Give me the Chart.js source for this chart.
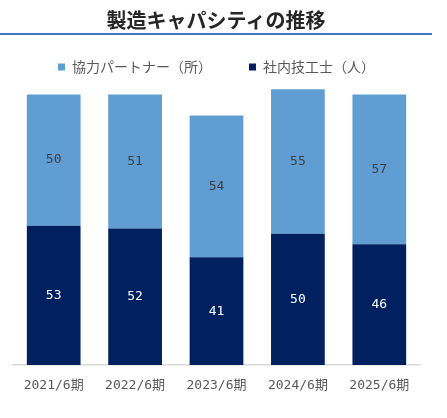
<!DOCTYPE html>
<html lang="ja">
<head>
<meta charset="utf-8">
<script src="https://cdn.jsdelivr.net/npm/chart.js@4.4.1/dist/chart.umd.min.js"></script>
<style>
    html, body { margin: 0; padding: 0; background: #fff; }
    #wrap { position: relative; width: 447px; height: 418px; }
    #title {
        position: absolute; left: 0; top: 0; width: 432px; height: 33px;
        border-bottom: 2px solid #4472C4;
        text-align: center; line-height: 40px;
        font-family: 'Noto Sans CJK JP', sans-serif;
        font-size: 20px; font-weight: bold; color: #262626;
        z-index: 2;
    }
    #box { position: absolute; left: 0; top: 0; width: 447px; height: 418px; }
</style>
</head>
<body>
<div id="wrap">
    <div id="title">製造キャパシティの推移</div>
    <div id="box"><canvas id="capacityChart"></canvas></div>
</div>
<script>
/* ===== DATA ===== */
const periods = ['2021/6期', '2022/6期', '2023/6期', '2024/6期', '2025/6期'];
const staffLabel = '社内技工士（人）';
const partnerLabel = '協力パートナー（所）';
const staffCounts = [53, 52, 41, 50, 46];
const partnerCounts = [50, 51, 54, 55, 57];

const monoFamily = "'DejaVu Sans Mono', 'Noto Sans CJK JP', sans-serif";
Chart.defaults.font.family = "'Noto Sans CJK JP', 'Noto Sans', sans-serif";

/* legend height tweak */
const legendHeight = {
    id: 'legendHeight',
    beforeInit(chart) {
        const fit = chart.legend.fit;
        chart.legend.fit = function () {
            fit.call(this);
            this.height = 53;
        };
    }
};

/* value labels in the middle of each segment */
const barLabels = {
    id: 'barLabels',
    afterDatasetsDraw(chart) {
        const ctx = chart.ctx;
        ctx.save();
        ctx.font = '13px ' + monoFamily;
        ctx.textAlign = 'center';
        ctx.textBaseline = 'middle';
        chart.data.datasets.forEach((ds, i) => {
            const meta = chart.getDatasetMeta(i);
            meta.data.forEach((bar, j) => {
                const p = bar.getCenterPoint();
                ctx.fillStyle = ds.labelColor;
                ctx.fillText(ds.data[j], p.x, p.y);
            });
        });
        ctx.restore();
    }
};

new Chart(document.getElementById('capacityChart'), {
    type: 'bar',
    data: {
        labels: periods,
        datasets: [
            {
                label: staffLabel,
                data: staffCounts,
                backgroundColor: '#002060',
                labelColor: '#ffffff'
            },
            {
                label: partnerLabel,
                data: partnerCounts,
                backgroundColor: '#5F9DD3',
                labelColor: '#404040'
            }
        ]
    },
    options: {
        responsive: true,
        maintainAspectRatio: false,
        animation: false,
        datasets: {
            bar: { categoryPercentage: 1, barPercentage: 0.66 }
        },
        layout: { padding: { left: 13, right: 27, top: 23, bottom: 0 } },
        plugins: {
            legend: {
                position: 'top',
                reverse: true,
                labels: {
                    boxWidth: 7,
                    boxHeight: 7,
                    padding: 37,
                    color: '#595959',
                    font: { size: 14 }
                }
            },
            tooltip: { enabled: false }
        },
        scales: {
            x: {
                stacked: true,
                grid: { display: false, drawTicks: false },
                border: { color: '#d9d9d9', width: 1.5 },
                ticks: { color: '#595959', font: { size: 13, family: monoFamily }, padding: 13 },
                afterFit(scale) { scale.height = 53; }
            },
            y: {
                stacked: true,
                display: false,
                min: 0,
                max: 110
            }
        }
    },
    plugins: [legendHeight, barLabels]
});
</script>
</body>
</html>
